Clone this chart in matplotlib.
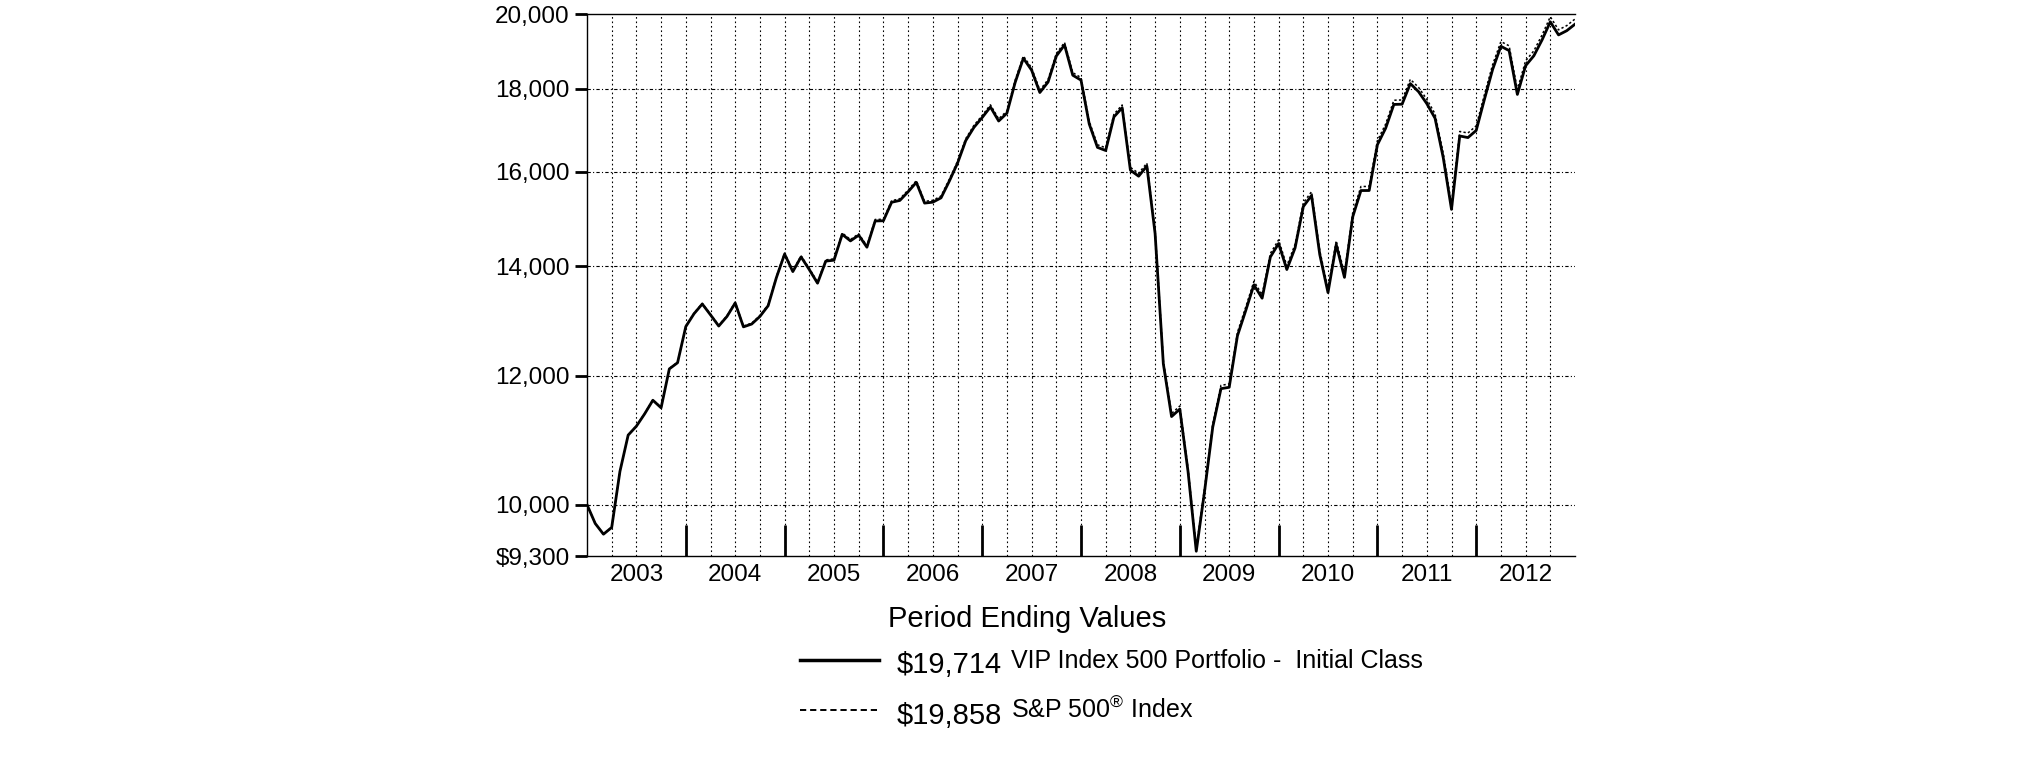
"""
Growth of $10,000: VIP Index 500 Portfolio - Initial Class vs S&P 500 Index,
month ends from Dec 2002 to Dec 2012, on a log value axis.
"""

import matplotlib

matplotlib.use("Agg")
import matplotlib.pyplot as plt
from matplotlib.lines import Line2D
from matplotlib.ticker import FixedFormatter, FixedLocator, NullFormatter, NullLocator

plt.rcParams["font.family"] = ["Liberation Sans", "DejaVu Sans"]
plt.rcParams["mathtext.fontset"] = "custom"
plt.rcParams["mathtext.rm"] = "Liberation Sans"
plt.rcParams["mathtext.it"] = "Liberation Sans"

# month-end values, first point is Dec 2002
fund = [
    10000,
    9737, 9591, 9683, 10480, 11032, 11172, 11368, 11589, 11466, 12114, 12220, 12860,
    13096, 13277, 13075, 12870, 13045, 13296, 12855, 12906, 13045, 13244, 13780, 14247,
    13899, 14190, 13938, 13673, 14106, 14125, 14650, 14515, 14632, 14386, 14929, 14934,
    15329, 15369, 15558, 15766, 15311, 15331, 15425, 15791, 16197, 16724, 17041, 17279,
    17539, 17194, 17385, 18155, 18788, 18475, 17900, 18167, 18846, 19145, 18343, 18216,
    17122, 16565, 16492, 17294, 17518, 16040, 15904, 16133, 14666, 12202, 11325, 11445,
    10480, 9363, 10183, 11157, 11780, 11803, 12694, 13151, 13641, 13386, 14189, 14461,
    13940, 14371, 15236, 15476, 14239, 13493, 14438, 13786, 15015, 15585, 15586, 16626,
    17019, 17601, 17607, 18127, 17921, 17621, 17262, 16324, 15176, 16834, 16796, 16966,
    17729, 18497, 19108, 18992, 17852, 18591, 18853, 19281, 19781, 19418, 19534, 19714,
]
sp500 = [
    10000,
    9738, 9592, 9685, 10483, 11035, 11176, 11373, 11595, 11472, 12121, 12228, 12869,
    13106, 13288, 13087, 12882, 13058, 13311, 12870, 12922, 13062, 13262, 13799, 14268,
    13920, 14212, 13961, 13696, 14131, 14151, 14677, 14543, 14661, 14416, 14961, 14966,
    15363, 15404, 15595, 15804, 15349, 15370, 15465, 15833, 16241, 16771, 17090, 17329,
    17591, 17246, 17439, 18212, 18848, 18535, 17960, 18229, 18911, 19212, 18409, 18282,
    17185, 16627, 16555, 17361, 17587, 16104, 15969, 16200, 14727, 12254, 11374, 11495,
    10526, 9405, 10229, 11208, 11835, 11859, 12755, 13215, 13708, 13453, 14260, 14535,
    14012, 14446, 15317, 15559, 14316, 13567, 14518, 13863, 15100, 15674, 15676, 16723,
    17119, 17706, 17713, 18237, 18031, 17730, 17370, 16427, 15273, 16942, 16905, 17077,
    17846, 18621, 19237, 19121, 17975, 18720, 18985, 19417, 19922, 19557, 19675, 19858,
]
years = ["2003", "2004", "2005", "2006", "2007", "2008", "2009", "2010", "2011", "2012"]
y_ticks = [9300, 10000, 12000, 14000, 16000, 18000, 20000]
y_labels = ["$9,300", "10,000", "12,000", "14,000", "16,000", "18,000", "20,000"]
end_values = ["$19,714", "$19,858"]
names = ["VIP Index 500 Portfolio -  Initial Class", "S&P 500$^{®}$ Index"]

W, H = 2025, 761


def fx(px):
    return px / W


def fy(py):
    return 1 - py / H


def main():
    fig = plt.figure(figsize=(W / 100, H / 100), dpi=100)
    ax = fig.add_axes([fx(587), fy(556), fx(1575 - 587), (556 - 14) / H])

    months = range(len(fund))
    ax.plot(months, fund, color="black", lw=2.0, zorder=3)
    ax.plot(months, sp500, color="black", lw=1.1, ls=(0, (1.5, 1.5)), zorder=4)

    ax.set_yscale("log")
    ax.set_ylim(y_ticks[0], y_ticks[-1])
    ax.set_xlim(0, len(fund) - 1)

    # quarterly vertical grid, dotted horizontal grid on value ticks
    ax.vlines(range(3, len(fund) - 1, 3), y_ticks[0], y_ticks[-1],
              color="black", lw=0.8, ls=(0, (1.5, 2.5)), zorder=1)
    for v in y_ticks[1:-1]:
        ax.axhline(v, color="black", lw=0.8, ls=(0, (3, 2, 1, 2)), zorder=1)

    ax.yaxis.set_major_locator(FixedLocator(y_ticks))
    ax.yaxis.set_major_formatter(FixedFormatter(y_labels))
    ax.yaxis.set_minor_locator(NullLocator())
    ax.tick_params(axis="y", direction="out", length=8.6, width=2,
                   labelsize=17.5, pad=4)

    ax.xaxis.set_major_locator(FixedLocator(range(12, 120, 12)))
    ax.xaxis.set_major_formatter(NullFormatter())
    ax.xaxis.set_minor_locator(FixedLocator(range(6, 120, 12)))
    ax.xaxis.set_minor_formatter(FixedFormatter(years))
    ax.tick_params(axis="x", which="major", direction="in", length=22, width=2)
    ax.tick_params(axis="x", which="minor", length=0, labelsize=17.5, pad=6)

    ax.spines["right"].set_visible(False)
    for s in ("left", "top", "bottom"):
        ax.spines[s].set_linewidth(1.0)

    # legend block
    fig.text(fx(888), fy(627), "Period Ending Values", fontsize=21, va="baseline")
    fig.add_artist(Line2D([fx(800), fx(879)], [fy(660)] * 2, color="black", lw=2.5))
    fig.add_artist(Line2D([fx(800), fx(879)], [fy(710)] * 2, color="black", lw=1.4,
                          ls=(0, (3.2, 2))))
    fig.text(fx(897), fy(673), end_values[0], fontsize=21, va="baseline")
    fig.text(fx(897), fy(724), end_values[1], fontsize=21, va="baseline")
    fig.text(fx(1011), fy(668), names[0], fontsize=18, va="baseline")
    fig.text(fx(1011), fy(718), names[1], fontsize=18, va="baseline")

    fig.savefig("out.png", dpi=100)


if __name__ == "__main__":
    main()
